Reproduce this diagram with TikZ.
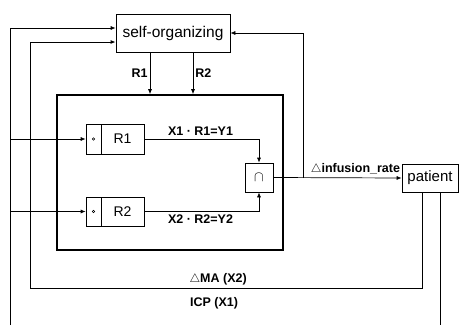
\documentclass[tikz,border=0pt]{standalone}
\usepackage{fontspec}
\setmainfont{Liberation Sans}
\usetikzlibrary{arrows.meta}
\tikzset{
  box/.style={draw, line width=0.7pt, inner sep=0pt, font=\fontsize{14}{16}\selectfont},
  lbl/.style={font=\fontsize{12.5}{14}\selectfont\bfseries, inner sep=0pt},
  conn/.style={line width=0.7pt},
  arr/.style={conn, -{Latex[length=5pt,width=4pt]}},
}
\begin{document}
\begin{tikzpicture}[x=1pt,y=-1pt]
\useasboundingbox (0,0) rectangle (459,325);
% nodes
\node[box, minimum width=114pt, minimum height=38pt, font=\fontsize{15.5}{17}\selectfont] (self) at (173,33) {self-organizing};
\node[draw, line width=1.6pt, minimum width=226pt, minimum height=155pt, inner sep=0pt] (inner) at (170,172.5) {};
\node[box, minimum width=15pt, minimum height=30pt] (r1a) at (93.5,139) {};
\node[box, minimum width=43pt, minimum height=30pt] (r1) at (122.5,139) {R1};
\node[box, minimum width=15pt, minimum height=29pt] (r2a) at (93.5,211.5) {};
\node[box, minimum width=43pt, minimum height=29pt] (r2) at (122.5,211.5) {R2};
\node[draw, line width=0.6pt, circle, minimum size=2.6pt, inner sep=0pt] (o1) at (r1a) {};
\node[draw, line width=0.6pt, circle, minimum size=2.6pt, inner sep=0pt] (o2) at (r2a) {};
\node[box, minimum width=28pt, minimum height=29pt] (cap) at (259,177.5) {$\cap$};
\node[box, minimum width=56pt, minimum height=28pt, font=\fontsize{15}{17}\selectfont] (patient) at (430,178) {patient};
% coordinates
\coordinate (L1) at (10,139);
\coordinate (L2) at (10,211.5);
\coordinate (icpL) at (10,325);
\coordinate (icpR) at (440,325);
\coordinate (maC) at (30,288);
\coordinate (J) at (303,178);
% connectors
\draw[arr] ([xshift=-23pt]self.south) -- ([xshift=-23pt]self.south |- inner.north) node[lbl, midway, left=2pt] {R1};
\draw[arr] ([xshift=20pt]self.south) -- ([xshift=20pt]self.south |- inner.north) node[lbl, midway, right=2pt] {R2};
\draw[arr] (L1) -- (r1a.west);
\draw[arr] (L2) -- (r2a.west);
\draw[arr] (r1.east) -| node[lbl, pos=0.245, above=3pt] {X1 · R1=Y1} (cap.north);
\draw[arr] (r2.east) -| node[lbl, pos=0.245, below=3pt] {X2 · R2=Y2} (cap.south);
\draw[arr] (cap.east) -- node[lbl, pos=0.64, above=3pt] {$\triangle$infusion\_rate} (patient.west);
\draw[arr] (J) |- (self.east);
\draw[arr] (icpL) |- ([yshift=5pt]self.west);
\draw[conn] ([xshift=10pt]patient.south) -- (icpR);
\draw[arr, line width=1pt] ([xshift=-8pt]patient.south) |- node[lbl, pos=0.76, above=2pt] {$\triangle$MA (X2)} (maC) |- ([yshift=-9pt]self.west);
\node[lbl] (icp) at (214,303) {ICP (X1)};
\end{tikzpicture}
\end{document}
